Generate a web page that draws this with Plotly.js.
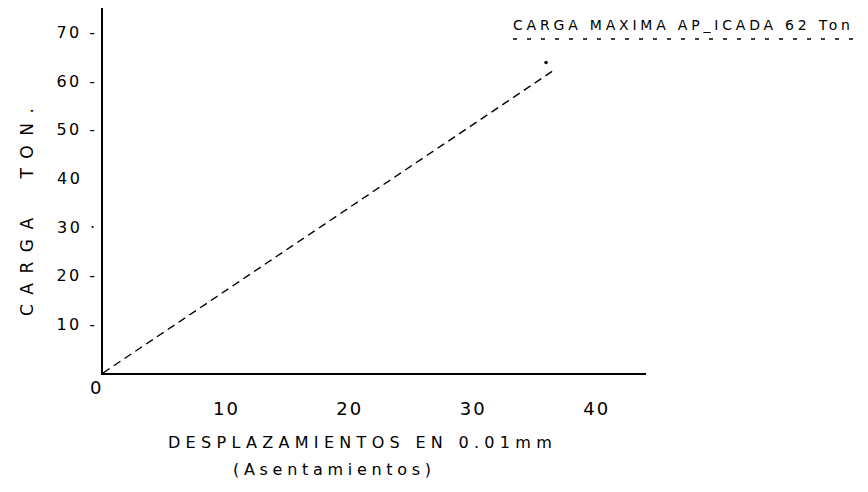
<!DOCTYPE html>
<html>
<head>
<meta charset="utf-8">
<script src="https://cdn.plot.ly/plotly-3.0.1.min.js"></script>
<style>html,body{margin:0;padding:0;background:#fff;}#chart{width:868px;height:492px;}</style>
</head>
<body>
<div id="chart"></div>
<script>
// Data
const desplazamiento = [0, 36.4];   // 0.01 mm
const carga = [0, 62];              // Ton
const markX = [35.9];               // small mark near the max-load point
const markY = [63.8];

const xTickVals = [10, 20, 30, 40];
const xTickText = ["10", "20", "30", "40"];
const yTickVals = [10, 20, 30, 40, 50, 60, 70];
const yTickText = ["10 -", "20 -", "30 ·", "40\u00a0\u00a0", "50 -", "60 -", "70 -"];

const yTitle = "CARGA  TON.";
const xTitle1 = "DESPLAZAMIENTOS EN 0.01mm";
const xTitle2 = "(Asentamientos)";
const noteText = "CARGA MAXIMA AP_ICADA 62 Ton";

const FONT = "DejaVu Sans, Verdana, sans-serif";
const sp = (t, ls) => '<span style="letter-spacing:' + ls + 'px">' + t + '</span>';

const traces = [
  {
    x: desplazamiento, y: carga, type: 'scatter', mode: 'lines',
    line: {color: '#000', width: 1.4, dash: '8px,5px'},
    hoverinfo: 'skip', showlegend: false
  },
  {
    x: markX, y: markY, type: 'scatter', mode: 'markers',
    marker: {color: '#000', size: 3.5, symbol: 'circle'},
    hoverinfo: 'skip', showlegend: false
  }
];

const layout = {
  width: 868, height: 492,
  margin: {l: 103, r: 222, t: 8, b: 119, pad: 0},
  paper_bgcolor: '#fff', plot_bgcolor: '#fff',
  showlegend: false,
  font: {family: FONT, color: '#000'},
  xaxis: {
    range: [0, 44], showgrid: false, zeroline: false,
    showline: true, linecolor: '#000', linewidth: 1.6,
    tickmode: 'array', tickvals: xTickVals, ticktext: xTickText.map(t => sp(t, 2)),
    ticks: '', ticklabelstandoff: 19,
    tickfont: {size: 18, family: FONT, color: '#000'}
  },
  yaxis: {
    range: [0, 75], showgrid: false, zeroline: false,
    showline: true, linecolor: '#000', linewidth: 2.2,
    tickmode: 'array', tickvals: yTickVals, ticktext: yTickText.map(t => sp(t, 2.5)),
    ticks: '', ticklabelstandoff: 0,
    tickfont: {size: 16, family: FONT, color: '#000'}
  },
  annotations: [
    {xref: 'paper', yref: 'paper', x: (95-103)/543, y: -(387-373)/365,
     text: '0', showarrow: false, xanchor: 'center', yanchor: 'middle',
     font: {size: 18, family: FONT, color: '#000'}},
    {xref: 'paper', yref: 'paper', x: (27-103)/543, y: (373-208)/365,
     text: sp(yTitle, 9.5), textangle: -90, showarrow: false,
     xanchor: 'center', yanchor: 'middle',
     font: {size: 17, family: FONT, color: '#000'}},
    {xref: 'paper', yref: 'paper', x: (362-103)/543, y: (373-443)/365,
     text: sp(xTitle1, 5.3), showarrow: false, xanchor: 'center', yanchor: 'middle',
     font: {size: 16, family: FONT, color: '#000'}},
    {xref: 'paper', yref: 'paper', x: (334-103)/543, y: (373-469)/365,
     text: sp(xTitle2, 4.7), showarrow: false, xanchor: 'center', yanchor: 'middle',
     font: {size: 16, family: FONT, color: '#000'}},
    {xref: 'paper', yref: 'paper', x: (683-103)/543, y: (373-25)/365,
     text: sp(noteText, 3.8), showarrow: false, xanchor: 'center', yanchor: 'middle',
     font: {size: 14, family: FONT, color: '#000'}}
  ],
  shapes: [
    {type: 'line', xref: 'paper', yref: 'paper',
     x0: (513-103)/543, x1: (853-103)/543, y0: (373-39)/365, y1: (373-39)/365,
     line: {color: '#000', width: 1.3, dash: '4px,10px'}}
  ]
};

Plotly.newPlot('chart', traces, layout, {displayModeBar: false, staticPlot: true});
</script>
</body>
</html>
